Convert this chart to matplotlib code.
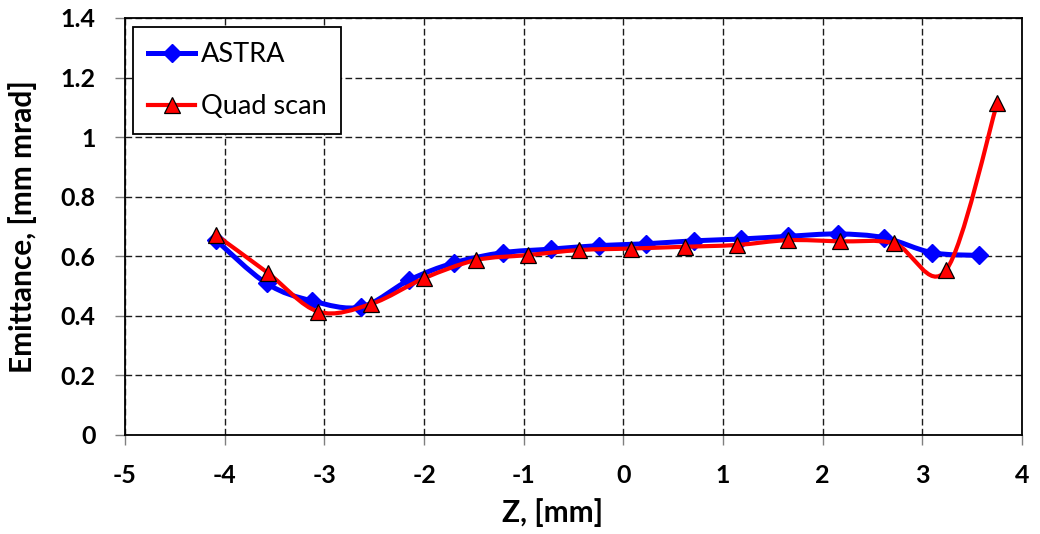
import numpy as np
import matplotlib
matplotlib.use("Agg")
import matplotlib.pyplot as plt
from matplotlib.path import Path
from matplotlib.patches import PathPatch
from matplotlib.lines import Line2D

plt.rcParams['font.family'] = ['Lato', 'DejaVu Sans']
plt.rcParams['axes.unicode_minus'] = False

# Data
astra_z = [-4.09, -3.58, -3.12, -2.63, -2.15, -1.70, -1.21, -0.73, -0.24,
           0.23, 0.71, 1.18, 1.65, 2.15, 2.62, 3.10, 3.57]
astra_eps = [0.655, 0.509, 0.450, 0.430, 0.520, 0.578, 0.612, 0.624, 0.636,
             0.642, 0.652, 0.658, 0.667, 0.675, 0.662, 0.612, 0.603]

quad_z = [-4.09, -3.57, -3.06, -2.53, -2.00, -1.48, -0.96, -0.44, 0.08,
          0.62, 1.14, 1.65, 2.17, 2.72, 3.24, 3.75]
quad_eps = [0.672, 0.545, 0.414, 0.440, 0.526, 0.587, 0.604, 0.621, 0.626,
            0.632, 0.638, 0.654, 0.650, 0.643, 0.554, 1.113]

x_ticks = [-5, -4, -3, -2, -1, 0, 1, 2, 3, 4]
y_ticks = [0, 0.2, 0.4, 0.6, 0.8, 1, 1.2, 1.4]
y_tick_labels = ["0", "0.2", "0.4", "0.6", "0.8", "1", "1.2", "1.4"]


def smooth_path(x, y):
    # Excel-style smoothed line: cubic Bezier through every point
    p = np.column_stack([x, y])
    n = len(p)
    verts = [p[0]]
    codes = [Path.MOVETO]
    for i in range(n - 1):
        p0 = p[max(i - 1, 0)]
        p1 = p[i]
        p2 = p[i + 1]
        p3 = p[min(i + 2, n - 1)]
        c1 = p1 + (p2 - p0) / 6.0
        c2 = p2 - (p3 - p1) / 6.0
        verts += [c1, c2, p2]
        codes += [Path.CURVE4] * 3
    return Path(verts, codes)


fig = plt.figure(figsize=(10.4, 5.34), dpi=100)
ax = fig.add_axes([0.1202, 0.1854, 0.8625, 0.7809])

ax.add_patch(PathPatch(smooth_path(astra_z, astra_eps), fill=False,
                       edgecolor="#0000ff", lw=3.6, zorder=3,
                       capstyle="round", joinstyle="round"))
ax.plot(astra_z, astra_eps, linestyle="none", marker="D", ms=9,
        color="#0000ff", mec="#0000ff", zorder=4)

ax.add_patch(PathPatch(smooth_path(quad_z, quad_eps), fill=False,
                       edgecolor="#ff0000", lw=3.0, zorder=5,
                       capstyle="round", joinstyle="round"))
ax.plot(quad_z, quad_eps, linestyle="none", marker="^", ms=11,
        color="#ff0000", mec="black", mew=0.9, zorder=6)

ax.set_xlim(-5, 4)
ax.set_ylim(0, 1.4)
ax.set_xticks(x_ticks)
ax.set_yticks(y_ticks)
ax.set_yticklabels(y_tick_labels)
ax.grid(True, color="#1a1a1a", linestyle=(0, (4.8, 2.4)), linewidth=1.0)
ax.set_axisbelow(True)

for s in ax.spines.values():
    s.set_color("black")
    s.set_linewidth(1.3)

ax.tick_params(direction="out", length=7, width=1.0, color="#808080",
               labelsize=18, pad=14)
for lab in ax.get_xticklabels() + ax.get_yticklabels():
    lab.set_fontweight("bold")

ax.set_xlabel("Z, [mm]", fontsize=21.5, fontweight="bold", va="center")
ax.xaxis.set_label_coords((553 - 125) / 897, (435 - 513) / 417)
ax.set_ylabel("Emittance, [mm mrad]", fontsize=21.5, fontweight="bold",
              va="center")
ax.yaxis.set_label_coords((23 - 125) / 897, 0.5)

handles = [
    Line2D([], [], color="#0000ff", lw=3.6, marker="D", ms=9),
    Line2D([], [], color="#ff0000", lw=3.0, marker="^", ms=11,
           mfc="#ff0000", mec="black", mew=0.9),
]
leg = ax.legend(handles, ["ASTRA", "Quad scan"], loc="upper left",
                bbox_to_anchor=(0.009, 0.978), fontsize=19.5,
                fancybox=False, framealpha=1, edgecolor="black",
                handlelength=1.75, handletextpad=0.2, borderpad=0.55,
                borderaxespad=0, labelspacing=1.0)
leg.get_frame().set_linewidth(1.3)

fig.savefig("out.png", dpi=100)
